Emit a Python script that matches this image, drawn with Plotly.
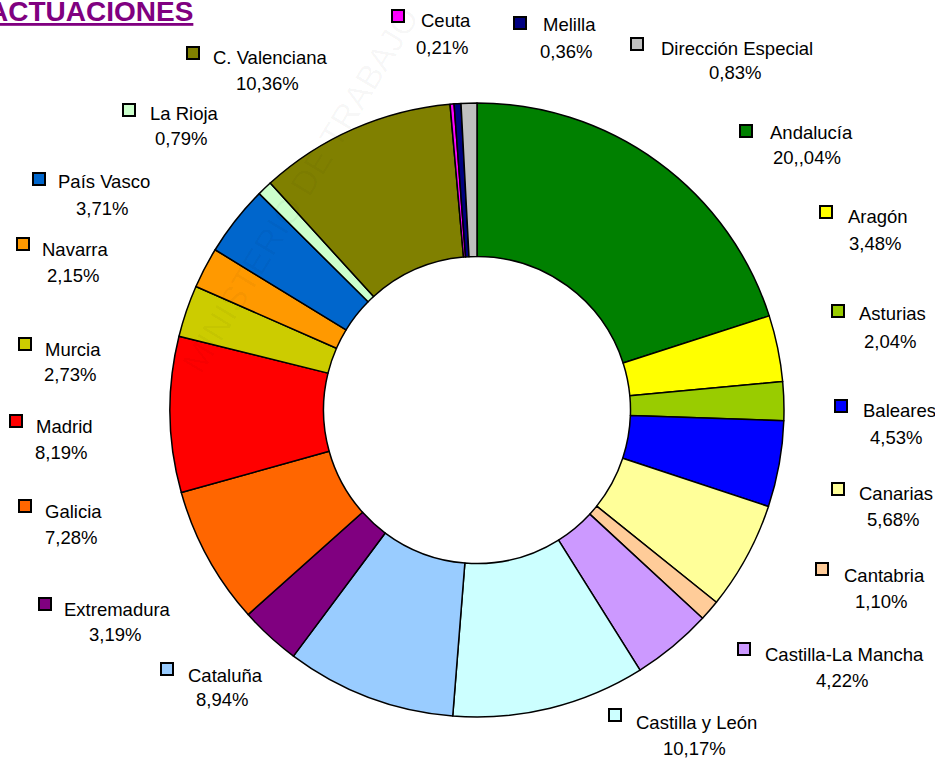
import plotly.graph_objects as go

# ---- data ----
regions = ["Andalucía", "Aragón", "Asturias", "Baleares", "Canarias", "Cantabria",
           "Castilla-La Mancha", "Castilla y León", "Cataluña", "Extremadura", "Galicia",
           "Madrid", "Murcia", "Navarra", "País Vasco", "La Rioja", "C. Valenciana",
           "Ceuta", "Melilla", "Dirección Especial"]
shares = [20.04, 3.48, 2.04, 4.53, 5.68, 1.10, 4.22, 10.17, 8.94, 3.19, 7.28,
          8.19, 2.73, 2.15, 3.71, 0.79, 10.36, 0.21, 0.36, 0.83]
pct_labels = ["20,,04%", "3,48%", "2,04%", "4,53%", "5,68%", "1,10%", "4,22%", "10,17%",
              "8,94%", "3,19%", "7,28%", "8,19%", "2,73%", "2,15%", "3,71%", "0,79%",
              "10,36%", "0,21%", "0,36%", "0,83%"]
colors = ["#008000", "#FFFF00", "#99CC00", "#0000FF", "#FFFF99", "#FFCC99", "#CC99FF",
          "#CCFFFF", "#99CCFF", "#800080", "#FF6600", "#FF0000", "#CCCC00", "#FF9900",
          "#0066CC", "#CCFFCC", "#808000", "#FF00FF", "#000080", "#C0C0C0"]

# ---- label layout (pixels): marker centre, name left x / y, pct centre x / y ----
label_pos = [
    (746, 131, 768, 132, 807, 158),
    (826, 212, 846, 216, 875, 243),
    (838, 311, 857, 314, 890, 341),
    (841, 406, 861, 410, 896, 437),
    (838, 489, 857, 493, 893, 519),
    (822, 569, 842, 575, 881, 601),
    (744, 649, 763, 654, 842, 680),
    (615, 715, 634, 722, 694, 748),
    (167, 669, 186, 675, 222, 699),
    (45, 604, 62, 609, 115, 634),
    (25, 506, 43, 511, 71, 537),
    (16, 421, 34, 426, 61, 452),
    (25, 344, 43, 349, 70, 375),
    (23, 244, 40, 249, 73, 275),
    (39, 179, 56, 182, 102, 208),
    (129, 110, 148, 113, 181, 139),
    (193, 53, 211, 57, 267, 83),
    (398, 16, 419, 20, 442, 47),
    (520, 23, 541, 25, 566, 51),
    (637, 44, 659, 48, 735, 73),
]

W, H = 935, 758
def px(x):
    return x / W
def py(y):
    return 1 - y / H

cx, cy, R = 477, 410, 307

fig = go.Figure(go.Pie(
    labels=regions, values=shares, sort=False, direction="clockwise", rotation=0,
    hole=0.5, textinfo="none", hoverinfo="label+percent",
    marker=dict(colors=colors, line=dict(color="black", width=1.5)),
    domain=dict(x=[px(cx - R), px(cx + R)], y=[py(cy + R), py(cy - R)]),
    showlegend=False,
))

font_fam = "Liberation Sans, Arial, sans-serif"
fs = 18.5
annotations = []
shapes = []
s = 6
for name, pct, col, (mx, my, nx, ny, pxc, pyc) in zip(regions, pct_labels, colors, label_pos):
    shapes.append(dict(type="rect", xref="paper", yref="paper",
                       x0=px(mx - s), x1=px(mx + s), y0=py(my + s), y1=py(my - s),
                       fillcolor=col, line=dict(color="black", width=2)))
    annotations.append(dict(text=name, x=px(nx), y=py(ny), xref="paper", yref="paper",
                            xanchor="left", yanchor="middle", showarrow=False,
                            font=dict(family=font_fam, size=fs, color="black")))
    annotations.append(dict(text=pct, x=px(pxc), y=py(pyc), xref="paper", yref="paper",
                            xanchor="center", yanchor="middle", showarrow=False,
                            font=dict(family=font_fam, size=fs, color="black")))

# title
annotations.append(dict(text="<b><u>ACTUACIONES</u></b>", x=px(195), y=py(11),
                        xref="paper", yref="paper", xanchor="right", yanchor="middle",
                        showarrow=False,
                        font=dict(family="Liberation Sans, Arial, sans-serif", size=28,
                                  color="#800080")))
# faint watermark
annotations.append(dict(text="MINISTERIO DE TRABAJO", x=px(300), y=py(190),
                        xref="paper", yref="paper", xanchor="center", yanchor="middle",
                        showarrow=False, textangle=-58.6,
                        font=dict(family="Liberation Sans, Arial, sans-serif", size=34,
                                  color="rgba(0,0,0,0.035)")))

fig.update_layout(width=W, height=H, margin=dict(l=0, r=0, t=0, b=0),
                  paper_bgcolor="white", plot_bgcolor="white",
                  annotations=annotations, shapes=shapes)

fig.write_html("out.html", config={"displayModeBar": False},
               post_script="document.body.style.margin='0px';document.body.style.overflow='hidden';")
